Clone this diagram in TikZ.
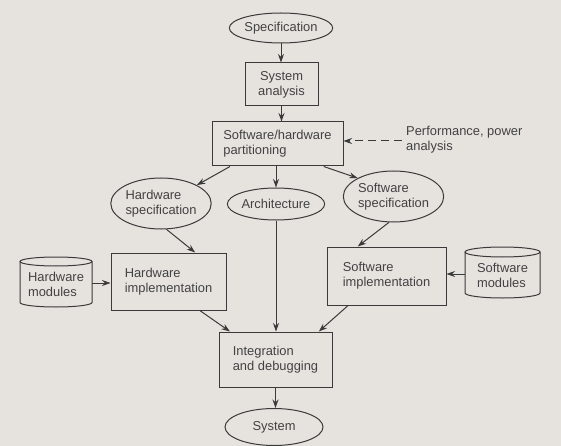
\documentclass[tikz,border=0pt]{standalone}
\usepackage{fontspec}
\setmainfont{Liberation Sans}
\usetikzlibrary{shapes.geometric,arrows.meta,calc}
\definecolor{paper}{RGB}{230,227,223}
\definecolor{ink}{RGB}{58,58,58}
\definecolor{txtc}{RGB}{66,66,66}
\tikzset{
  every node/.style={font=\fontsize{12.9}{14.8}\selectfont, text=txtc},
  boxn/.style={draw=ink, line width=1pt, rectangle, inner sep=0pt, align=left},
  ovaln/.style={draw=ink, line width=1pt, ellipse, inner sep=0pt, align=left},
  cyltxt/.style={rectangle, inner sep=0pt, align=left},
  conn/.style={draw=ink, line width=1pt, -{Stealth[length=8.5pt,width=6pt]}},
  cylline/.style={draw=ink, line width=1pt}
}
\begin{document}
\begin{tikzpicture}[x=1pt,y=-1pt]
\fill[paper] (0,0) rectangle (561,446);
\useasboundingbox (0,0) rectangle (561,446);
% nodes
\node[ovaln, minimum width=98, minimum height=30] (spec) at (281,28) {Specification};
\node[boxn, align=center, minimum width=73, minimum height=43] (sa) at (281.5,84.5) {System\\analysis};
\node[boxn, minimum width=131, minimum height=44] (part) at (277.5,144) {Software/hardware\\partitioning};
\node[ovaln, minimum width=92, minimum height=51] (hwspec) at (161,203.5) {Hardware\\specification};
\node[ovaln, minimum width=92, minimum height=32] (arch) at (276,204) {Architecture};
\node[ovaln, minimum width=97, minimum height=51] (swspec) at (393.5,196.5) {Software\\specification};
\node[boxn, minimum width=115, minimum height=57] (hwimpl) at (168.5,281.5) {Hardware\\implementation};
\node[boxn, minimum width=119, minimum height=58] (swimpl) at (386.5,276) {Software\\implementation};
\node[boxn, minimum width=113, minimum height=55] (integ) at (275.5,359.5) {Integration\\and debugging};
\node[ovaln, minimum width=98, minimum height=37] (sys) at (274,427) {System};
\node[cyltxt, anchor=west] (perf) at (406,140) {Performance, power\\analysis};
% cylinders
\node[cyltxt, minimum width=72, minimum height=50] (hwmod) at (56,284) {Hardware\\modules};
\draw[cylline] (20,261.5) -- (20,302.5) arc (180:0:36 and 4.5) -- (92,261.5);
\draw[cylline] (56,261.5) ellipse (36 and 4.5);
\node[cyltxt, minimum width=75, minimum height=50] (swmod) at (502.5,275) {Software\\modules};
\draw[cylline] (465,252) -- (465,293) arc (180:0:37.5 and 5) -- (540,252);
\draw[cylline] (502.5,252) ellipse (37.5 and 5);
% connectors
\draw[conn] (spec.south) -- (spec.south |- sa.north);
\draw[conn] (sa.south) -- (sa.south |- part.north);
\draw[conn, dashed, dash pattern=on 8pt off 5pt] (perf.west) ++(-4,1) coordinate (pd) (pd) -- (pd -| part.east);
\draw[conn] ($(part.south west)!0.14!(part.south east)$) -- (hwspec.north east);
\draw[conn] (part.south -| arch.north) -- (arch.north);
\draw[conn] ($(part.south west)!0.85!(part.south east)$) -- (swspec.north west);
\draw[conn] (hwspec.-78) -- ($(hwimpl.north west)!0.73!(hwimpl.north east)$);
\draw[conn] (swspec.-100) -- ($(swimpl.north west)!0.26!(swimpl.north east)$);
\draw[conn] (arch.south) -- (arch.south |- integ.north);
\draw[conn] (92,283) -- (92,283 -| hwimpl.west);
\draw[conn] (465,274) -- (465,274 -| swimpl.east);
\draw[conn] ($(hwimpl.south west)!0.77!(hwimpl.south east)$) -- ($(integ.north west)!0.1!(integ.north east)$);
\draw[conn] ($(swimpl.south west)!0.18!(swimpl.south east)$) -- ($(integ.north west)!0.88!(integ.north east)$);
\draw[conn] (integ.south) -- (integ.south |- sys.north);
\end{tikzpicture}
\end{document}
